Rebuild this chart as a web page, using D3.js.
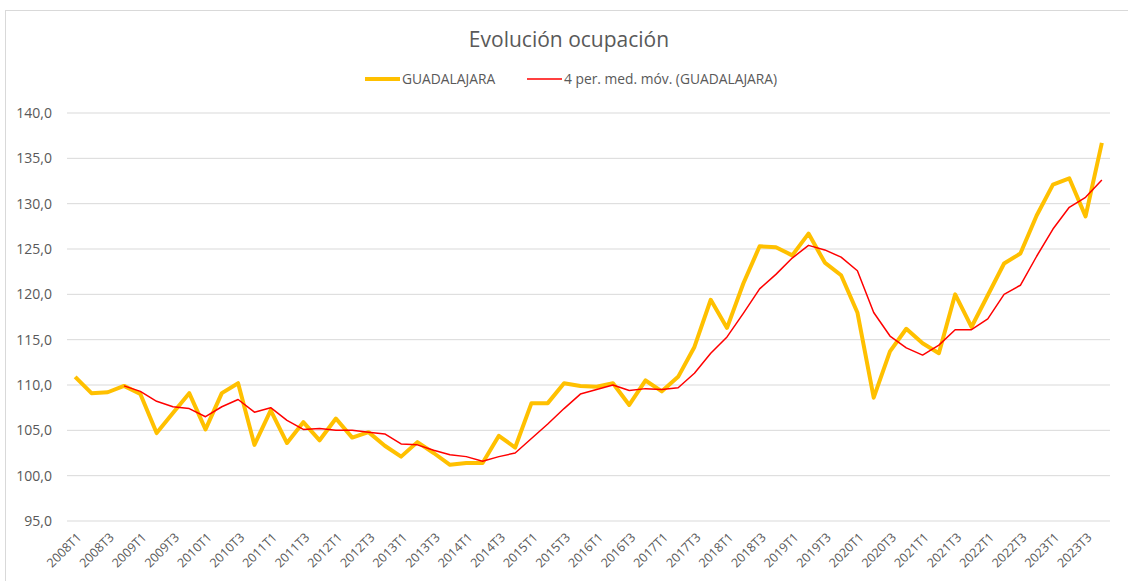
<!DOCTYPE html>
<html>
<head>
<meta charset="utf-8">
<script src="https://cdn.jsdelivr.net/npm/d3@7"></script>
<style>
  body { margin: 0; background: #fff; }
  svg { font-family: "Open Sans", "Liberation Sans", sans-serif; }
</style>
</head>
<body>
<svg id="chart" width="1128" height="581"></svg>
<script>
// --- datos ---
const years = d3.range(2008, 2024);
const quarters = years.flatMap(y => ["T1", "T2", "T3", "T4"].map(q => `${y}${q}`));

const guadalajara = [
  110.9, 109.1, 109.2, 109.9, 109.0, 104.7, 106.9, 109.1,
  105.1, 109.1, 110.2, 103.4, 107.2, 103.6, 105.9, 103.9,
  106.3, 104.2, 104.8, 103.3, 102.1, 103.7, 102.5, 101.2,
  101.4, 101.4, 104.4, 103.1, 108.0, 108.0, 110.2, 109.9,
  109.8, 110.2, 107.8, 110.5, 109.3, 110.9, 114.2, 119.4,
  116.3, 121.2, 125.3, 125.2, 124.3, 126.7, 123.5, 122.1,
  118.0, 108.6, 113.7, 116.2, 114.6, 113.5, 120.0, 116.4,
  119.9, 123.4, 124.5, 128.7, 132.1, 132.8, 128.6, 136.7
];

// media móvil (empieza en 2008T4)
const mediaMovil = [
  null, null, null, 109.9, 109.3, 108.2, 107.6, 107.4,
  106.5, 107.6, 108.4, 107.0, 107.5, 106.1, 105.1, 105.2,
  105.0, 105.0, 104.8, 104.6, 103.5, 103.4, 102.8, 102.3,
  102.1, 101.6, 102.1, 102.5, 104.1, 105.7, 107.4, 109.0,
  109.5, 110.0, 109.4, 109.6, 109.5, 109.7, 111.3, 113.5,
  115.3, 117.9, 120.6, 122.2, 124.0, 125.4, 124.9, 124.1,
  122.6, 118.0, 115.4, 114.1, 113.3, 114.4, 116.1, 116.1,
  117.3, 120.0, 121.0, 124.2, 127.2, 129.6, 130.7, 132.6
];

const yTicks = [95, 100, 105, 110, 115, 120, 125, 130, 135, 140];

// --- dimensiones ---
const svg = d3.select("#chart");
const margin = { left: 67, right: 1110, top: 113, bottom: 521 };

const x = d3.scalePoint()
  .domain(quarters)
  .range([margin.left, margin.right])
  .padding(0.5);

const y = d3.scaleLinear()
  .domain([95, 140])
  .range([margin.bottom, margin.top]);

const fmt = v => d3.format(".1f")(v).replace(".", ",");

// marco del gráfico
svg.append("rect")
  .attr("x", 5.5).attr("y", 10.5)
  .attr("width", 1140).attr("height", 600)
  .attr("fill", "none")
  .attr("stroke", "#d9d9d9");

// rejilla
svg.append("g")
  .selectAll("line")
  .data(yTicks)
  .join("line")
  .attr("x1", margin.left).attr("x2", margin.right)
  .attr("y1", d => y(d)).attr("y2", d => y(d))
  .attr("stroke", "#d9d9d9")
  .attr("stroke-width", 1);

// etiquetas eje Y
svg.append("g")
  .selectAll("text")
  .data(yTicks)
  .join("text")
  .attr("x", 52)
  .attr("y", d => y(d))
  .attr("dy", "0.35em")
  .attr("text-anchor", "end")
  .attr("font-size", 14)
  .attr("fill", "#595959")
  .text(fmt);

// etiquetas eje X (cada 2 trimestres)
svg.append("g")
  .selectAll("text")
  .data(quarters.filter((q, i) => i % 2 === 0))
  .join("text")
  .attr("transform", d => `translate(${x(d) + 4},${y(95) + 14}) rotate(-45)`)
  .attr("text-anchor", "end")
  .attr("dy", "0.35em")
  .attr("font-size", 12.5)
  .attr("fill", "#595959")
  .text(d => d);

// líneas
const line = d3.line()
  .defined(d => d[1] != null)
  .x(d => x(d[0]))
  .y(d => y(d[1]));

svg.append("path")
  .datum(quarters.map((q, i) => [q, guadalajara[i]]))
  .attr("fill", "none")
  .attr("stroke", "#ffc000")
  .attr("stroke-width", 4)
  .attr("stroke-linejoin", "round")
  .attr("d", line);

svg.append("path")
  .datum(quarters.map((q, i) => [q, mediaMovil[i]]))
  .attr("fill", "none")
  .attr("stroke", "#ff0000")
  .attr("stroke-width", 1.5)
  .attr("stroke-linejoin", "round")
  .attr("d", line);

// título
svg.append("text")
  .attr("x", 569).attr("y", 47)
  .attr("text-anchor", "middle")
  .attr("font-size", 21)
  .attr("fill", "#595959")
  .text("Evolución ocupación");

// leyenda
const legend = [
  { name: "GUADALAJARA", color: "#ffc000", width: 4, x: 365 },
  { name: "4 per. med. móv. (GUADALAJARA)", color: "#ff0000", width: 1.5, x: 527 }
];

const lg = svg.append("g")
  .selectAll("g")
  .data(legend)
  .join("g")
  .attr("transform", d => `translate(${d.x},79)`);

lg.append("line")
  .attr("x1", 0).attr("x2", 35)
  .attr("stroke", d => d.color)
  .attr("stroke-width", d => d.width);

lg.append("text")
  .attr("x", 37)
  .attr("dy", "0.35em")
  .attr("font-size", 13.8)
  .attr("fill", "#595959")
  .text(d => d.name);
</script>
</body>
</html>
